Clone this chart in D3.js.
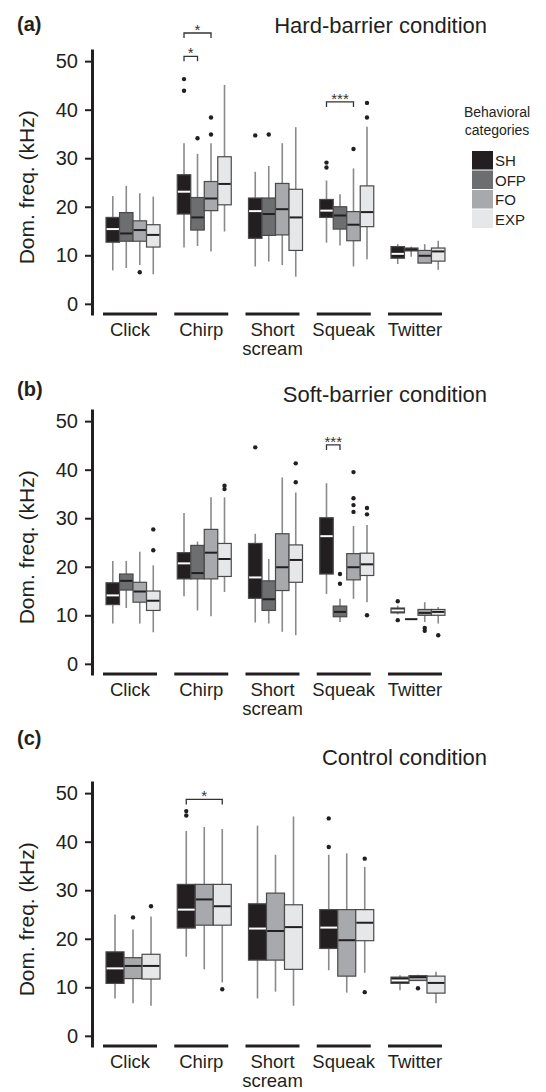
<!DOCTYPE html>
<html>
<head>
<meta charset="utf-8">
<script src="https://cdn.jsdelivr.net/npm/d3@7"></script>
<style>
  body { margin: 0; background: #fff; }
  svg { font-family: 'Liberation Sans', Arial, sans-serif; }
  .axis path.domain { stroke: #231f20; stroke-width: 3px; }
  .axis .tick line { stroke: #231f20; stroke-width: 2px; }
  .axis .tick text { font-size: 20px; fill: #231f20; }
</style>
</head>
<body>
<script>
const categories = ['Click', 'Chirp', 'Short scream', 'Squeak', 'Twitter'];
const groupsAB = ['SH', 'OFP', 'FO', 'EXP'];
const groupsC = ['SH', 'FO', 'EXP'];
const yTicks = [0, 10, 20, 30, 40, 50];

// [category, group, lowWhisker, q1, median, q3, highWhisker]
const hardBoxes = [
  ['Click', 'SH', 6.9, 12.7, 15.4, 17.8, 22.2],
  ['Click', 'OFP', 7.4, 12.9, 14.5, 18.8, 24.3],
  ['Click', 'FO', 8.0, 12.9, 15.2, 17.1, 22.8],
  ['Click', 'EXP', 6.1, 11.7, 14.2, 16.3, 22.1],
  ['Chirp', 'SH', 11.6, 18.5, 23.1, 26.6, 33.1],
  ['Chirp', 'OFP', 11.9, 15.2, 17.8, 21.9, 30.9],
  ['Chirp', 'FO', 10.8, 19.2, 21.7, 25.2, 33.1],
  ['Chirp', 'EXP', 14.9, 20.4, 24.7, 30.3, 45.1],
  ['Short scream', 'SH', 7.7, 13.5, 19.1, 21.8, 27.2],
  ['Short scream', 'OFP', 8.7, 14.1, 18.5, 21.8, 28.4],
  ['Short scream', 'FO', 8.0, 14.2, 19.5, 24.8, 33.1],
  ['Short scream', 'EXP', 5.6, 11.0, 17.8, 23.6, 36.4],
  ['Squeak', 'SH', 12.6, 17.8, 19.2, 21.5, 25.4],
  ['Squeak', 'OFP', 12.0, 15.4, 18.2, 20.0, 22.6],
  ['Squeak', 'FO', 7.7, 13.0, 16.3, 19.0, 27.9],
  ['Squeak', 'EXP', 9.2, 15.9, 18.9, 24.3, 36.5],
  ['Twitter', 'SH', 8.2, 9.4, 10.3, 11.8, 12.3],
  ['Twitter', 'OFP', 9.7, 10.9, 11.2, 11.5, 11.8],
  ['Twitter', 'FO', 8.4, 8.4, 9.9, 11.0, 12.3],
  ['Twitter', 'EXP', 7.0, 8.8, 10.8, 11.5, 13.0]
];
const hardOutliers = [
  ['Click', 'FO', 6.5],
  ['Chirp', 'SH', 46.3], ['Chirp', 'SH', 43.9],
  ['Chirp', 'OFP', 34.1],
  ['Chirp', 'FO', 38.4], ['Chirp', 'FO', 34.9],
  ['Short scream', 'SH', 34.7], ['Short scream', 'OFP', 34.9],
  ['Squeak', 'SH', 29.1], ['Squeak', 'SH', 28.1],
  ['Squeak', 'FO', 31.9],
  ['Squeak', 'EXP', 41.4], ['Squeak', 'EXP', 38.4]
];
// [category, groupA, groupB, level (kHz), label]
const hardSig = [
  ['Chirp', 'SH', 'OFP', 51.0, '*'],
  ['Chirp', 'SH', 'FO', 55.8, '*'],
  ['Squeak', 'SH', 'FO', 41.6, '***']
];

const softBoxes = [
  ['Click', 'SH', 8.3, 12.2, 14.1, 16.7, 21.2],
  ['Click', 'OFP', 11.5, 15.2, 17.1, 18.5, 21.2],
  ['Click', 'FO', 8.3, 12.7, 14.9, 16.8, 23.1],
  ['Click', 'EXP', 6.5, 11.0, 13.0, 15.0, 20.3],
  ['Chirp', 'SH', 13.9, 17.5, 20.7, 22.9, 31.1],
  ['Chirp', 'OFP', 11.0, 17.5, 18.7, 24.4, 25.2],
  ['Chirp', 'FO', 9.8, 17.5, 22.9, 27.7, 34.3],
  ['Chirp', 'EXP', 14.8, 18.0, 21.6, 24.8, 34.3],
  ['Short scream', 'SH', 8.5, 13.5, 17.8, 24.8, 26.8],
  ['Short scream', 'OFP', 8.3, 11.0, 13.3, 17.1, 21.6],
  ['Short scream', 'FO', 6.6, 15.1, 19.9, 26.8, 38.4],
  ['Short scream', 'EXP', 5.9, 16.8, 21.4, 24.5, 35.3],
  ['Squeak', 'SH', 14.4, 18.5, 26.3, 30.1, 37.2],
  ['Squeak', 'OFP', 8.6, 9.7, 10.7, 11.9, 13.4],
  ['Squeak', 'FO', 13.4, 17.3, 19.9, 22.7, 28.4],
  ['Squeak', 'EXP', 12.7, 18.2, 20.5, 22.8, 28.6],
  ['Twitter', 'SH', 10.2, 10.5, 11.0, 11.5, 12.0],
  ['Twitter', 'OFP', 9.2, 9.2, 9.2, 9.2, 9.2],
  ['Twitter', 'FO', 8.6, 10.0, 10.5, 11.2, 12.7],
  ['Twitter', 'EXP', 8.3, 10.0, 10.7, 11.2, 11.7]
];
const softOutliers = [
  ['Click', 'EXP', 23.4], ['Click', 'EXP', 27.7],
  ['Chirp', 'EXP', 36.7], ['Chirp', 'EXP', 36.0],
  ['Short scream', 'SH', 44.6],
  ['Short scream', 'EXP', 41.3], ['Short scream', 'EXP', 37.4],
  ['Squeak', 'OFP', 18.5], ['Squeak', 'OFP', 16.5],
  ['Squeak', 'FO', 39.5], ['Squeak', 'FO', 34.1], ['Squeak', 'FO', 32.7], ['Squeak', 'FO', 31.3],
  ['Squeak', 'EXP', 32.1], ['Squeak', 'EXP', 30.8], ['Squeak', 'EXP', 10.0],
  ['Twitter', 'SH', 12.9], ['Twitter', 'SH', 9.0],
  ['Twitter', 'FO', 7.4], ['Twitter', 'FO', 6.8],
  ['Twitter', 'EXP', 5.9]
];
const softSig = [
  ['Squeak', 'SH', 'OFP', 45.1, '***']
];

const controlBoxes = [
  ['Click', 'SH', 7.7, 10.8, 13.9, 17.3, 25.0],
  ['Click', 'FO', 6.7, 11.8, 14.4, 16.1, 21.9],
  ['Click', 'EXP', 6.2, 11.7, 14.4, 16.8, 24.6],
  ['Chirp', 'SH', 16.3, 22.2, 26.0, 31.2, 42.2],
  ['Chirp', 'FO', 13.7, 22.8, 28.1, 31.2, 43.0],
  ['Chirp', 'EXP', 11.0, 22.8, 26.7, 31.2, 42.6],
  ['Short scream', 'SH', 7.7, 15.6, 22.1, 27.2, 43.3],
  ['Short scream', 'FO', 9.1, 15.6, 21.6, 29.4, 37.3],
  ['Short scream', 'EXP', 6.2, 13.7, 22.4, 27.0, 45.2],
  ['Squeak', 'SH', 13.5, 18.0, 22.3, 26.0, 37.3],
  ['Squeak', 'FO', 8.9, 12.3, 19.7, 26.0, 37.6],
  ['Squeak', 'EXP', 13.0, 19.6, 23.3, 26.0, 34.8],
  ['Twitter', 'SH', 9.4, 10.8, 11.4, 12.1, 12.5],
  ['Twitter', 'FO', 11.4, 11.4, 12.1, 12.4, 12.6],
  ['Twitter', 'EXP', 6.7, 8.8, 10.9, 12.3, 13.2]
];
const controlOutliers = [
  ['Click', 'FO', 24.4], ['Click', 'EXP', 26.7],
  ['Chirp', 'SH', 46.3], ['Chirp', 'SH', 45.4], ['Chirp', 'EXP', 9.6],
  ['Squeak', 'SH', 44.8], ['Squeak', 'SH', 38.9],
  ['Squeak', 'EXP', 36.5], ['Squeak', 'EXP', 9.0],
  ['Twitter', 'FO', 9.8]
];
const controlSig = [
  ['Chirp', 'SH', 'EXP', 48.7, '*']
];

const groupColor = { SH: '#231f20', OFP: '#6d6e70', FO: '#a7a9ac', EXP: '#e6e7e8' };
const ink = '#231f20';

const svg = d3.select('body').append('svg').attr('width', 546).attr('height', 1092);

function drawPanel(p) {
  const g = svg.append('g');
  const y = d3.scaleLinear().domain([-2.3, 52.5]).range([p.zero + 11, p.zero - 255]);
  const x = d3.scaleBand().domain(categories).range([94.4, 450.6])
    .paddingInner(0.242).paddingOuter(0.121);
  const sub = d3.scaleBand().domain(p.groups).range([0, x.bandwidth()]);
  const boxX = (c, grp) => x(c) + 3 + sub(grp);
  const boxMid = (c, grp) => boxX(c, grp) + sub.bandwidth() / 2;

  // y axis
  g.append('g').attr('class', 'axis')
    .attr('transform', 'translate(92,0)')
    .call(d3.axisLeft(y).tickValues(yTicks).tickSize(7).tickPadding(7).tickSizeOuter(0));

  g.append('text')
    .attr('transform', `translate(34,${y(24)}) rotate(-90)`)
    .attr('text-anchor', 'middle')
    .attr('font-size', 21).attr('fill', ink)
    .text('Dom. freq. (kHz)');

  // category base lines + labels
  g.selectAll('.base').data(categories).join('line')
    .attr('x1', d => x(d)).attr('x2', d => x(d) + x.bandwidth())
    .attr('y1', p.zero + 10).attr('y2', p.zero + 10)
    .attr('stroke', ink).attr('stroke-width', 3);

  const lab = g.selectAll('.cat').data(categories).join('text')
    .attr('text-anchor', 'middle').attr('font-size', 18.5).attr('fill', ink)
    .attr('x', d => x(d) + x.bandwidth() / 2).attr('y', p.zero + 32);
  lab.selectAll('tspan').data(d => d.split(' ').map(w => [d, w])).join('tspan')
    .attr('x', d => x(d[0]) + x.bandwidth() / 2)
    .attr('dy', (d, i) => i ? 19 : 0)
    .text(d => d[1]);

  // whiskers
  g.selectAll('.whisker').data(p.boxes).join('line')
    .attr('x1', d => boxMid(d[0], d[1])).attr('x2', d => boxMid(d[0], d[1]))
    .attr('y1', d => y(d[2])).attr('y2', d => y(d[6]))
    .attr('stroke', '#8a8a8a').attr('stroke-width', 1.6);

  // boxes
  g.selectAll('.box').data(p.boxes).join('rect')
    .attr('x', d => boxX(d[0], d[1])).attr('width', sub.bandwidth())
    .attr('y', d => y(d[5])).attr('height', d => y(d[3]) - y(d[5]))
    .attr('fill', d => groupColor[d[1]])
    .attr('stroke', '#4a4a4a').attr('stroke-width', 1.2);

  // medians
  g.selectAll('.median').data(p.boxes).join('line')
    .attr('x1', d => boxX(d[0], d[1]) + 0.6).attr('x2', d => boxX(d[0], d[1]) + sub.bandwidth() - 0.6)
    .attr('y1', d => y(d[4])).attr('y2', d => y(d[4]))
    .attr('stroke', d => d[1] === 'SH' ? '#ffffff' : ink).attr('stroke-width', 2);

  // outliers
  g.selectAll('.outlier').data(p.outliers).join('circle')
    .attr('cx', d => boxMid(d[0], d[1])).attr('cy', d => y(d[2]))
    .attr('r', 2.2).attr('fill', ink);

  // significance brackets
  g.selectAll('.sig').data(p.sig).join('path')
    .attr('d', d => {
      const xa = boxMid(d[0], d[1]), xb = boxMid(d[0], d[2]), yy = y(d[3]);
      return `M${xa},${yy + 5}V${yy}H${xb}V${yy + 5}`;
    })
    .attr('fill', 'none').attr('stroke', '#333').attr('stroke-width', 1.3);
  g.selectAll('.sigtext').data(p.sig).join('text')
    .attr('x', d => (boxMid(d[0], d[1]) + boxMid(d[0], d[2])) / 2)
    .attr('y', d => y(d[3]) + 2)
    .attr('text-anchor', 'middle').attr('font-size', 15).attr('fill', '#333')
    .text(d => d[4]);

  // panel letter + title
  g.append('text').attr('x', 17).attr('y', p.letterY)
    .attr('font-size', 20).attr('font-weight', 'bold').attr('fill', ink)
    .text(p.letter);
  g.append('text').attr('x', 487).attr('y', p.titleY)
    .attr('text-anchor', 'end').attr('font-size', 22).attr('fill', ink)
    .text(p.title);

  if (p.legend) {
    const lg = g.append('g');
    lg.append('text').attr('x', 497).attr('y', 117).attr('text-anchor', 'middle')
      .attr('font-size', 14).attr('fill', ink).text('Behavioral');
    lg.append('text').attr('x', 497).attr('y', 135).attr('text-anchor', 'middle')
      .attr('font-size', 14).attr('fill', ink).text('categories');
    const item = lg.selectAll('.item').data(groupsAB).join('g')
      .attr('transform', (d, i) => `translate(472,${151 + i * 19.5})`);
    item.append('rect').attr('width', 21).attr('height', 18.5).attr('fill', d => groupColor[d]);
    item.append('text').attr('x', 23).attr('y', 15).attr('font-size', 15).attr('fill', ink).text(d => d);
  }
}

drawPanel({ zero: 304, groups: groupsAB, boxes: hardBoxes, outliers: hardOutliers, sig: hardSig,
  letter: '(a)', letterY: 31, title: 'Hard-barrier condition', titleY: 33, legend: true });
drawPanel({ zero: 664, groups: groupsAB, boxes: softBoxes, outliers: softOutliers, sig: softSig,
  letter: '(b)', letterY: 396, title: 'Soft-barrier condition', titleY: 402 });
drawPanel({ zero: 1036, groups: groupsC, boxes: controlBoxes, outliers: controlOutliers, sig: controlSig,
  letter: '(c)', letterY: 745, title: 'Control condition', titleY: 765 });
</script>
</body>
</html>
